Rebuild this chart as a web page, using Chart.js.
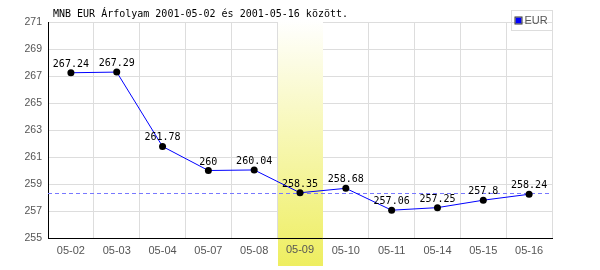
<!DOCTYPE html>
<html>
<head>
<meta charset="utf-8">
<script src="https://cdn.jsdelivr.net/npm/chart.js@4/dist/chart.umd.min.js"></script>
<style>
  body { margin: 0; background: #fff; }
  canvas { display: block; }
</style>
</head>
<body>
<canvas id="rateChart" width="600" height="270"></canvas>
<script>
const title = "MNB EUR Árfolyam 2001-05-02 és 2001-05-16 között.";
const days = ["05-02", "05-03", "05-04", "05-07", "05-08", "05-09", "05-10", "05-11", "05-14", "05-15", "05-16"];
const eurRates = [267.24, 267.29, 261.78, 260, 260.04, 258.35, 258.68, 257.06, 257.25, 257.8, 258.24];
const yTicks = [255, 257, 259, 261, 263, 265, 267, 269, 271];
const highlightDay = "05-09";
const refRate = 258.32;

const monoFont = "10px 'DejaVu Sans Mono', monospace";
const axisGray = "#555";

// title, legend box, highlighted column, reference line, value labels
const decorations = {
    id: "decorations",
    beforeDatasetsDraw(chart) {
        const { ctx, chartArea, scales } = chart;
        const x = scales.x, y = scales.y;
        const i = days.indexOf(highlightDay);
        const half = (x.getPixelForValue(1) - x.getPixelForValue(0)) / 2;
        const cx = x.getPixelForValue(i);
        const top = chartArea.top - 2, bottom = chart.height - 4;

        ctx.save();
        const grad = ctx.createLinearGradient(0, top, 0, bottom);
        grad.addColorStop(0, "#ffffff");
        grad.addColorStop(1, "#eeee60");
        ctx.fillStyle = grad;
        ctx.fillRect(Math.round(cx - half) + 1, top, Math.round(2 * half) - 1, bottom - top);

        // axis line and tick label again, over the column
        ctx.strokeStyle = "#000";
        ctx.lineWidth = 1;
        ctx.beginPath();
        ctx.moveTo(cx - half, chartArea.bottom + 0.5);
        ctx.lineTo(cx + half, chartArea.bottom + 0.5);
        ctx.stroke();
        ctx.fillStyle = axisGray;
        ctx.font = "11px 'Liberation Sans', Arial, sans-serif";
        ctx.textAlign = "center";
        ctx.textBaseline = "top";
        ctx.fillText(highlightDay, cx, chartArea.bottom + 6);

        // dashed reference line
        const ry = Math.round(y.getPixelForValue(refRate)) + 0.5;
        ctx.strokeStyle = "#7878ff";
        ctx.setLineDash([4, 3]);
        ctx.beginPath();
        ctx.moveTo(chartArea.left, ry);
        ctx.lineTo(chartArea.right, ry);
        ctx.stroke();
        ctx.restore();
    },
    afterDatasetsDraw(chart) {
        const { ctx, chartArea } = chart;
        const meta = chart.getDatasetMeta(0);
        ctx.save();
        ctx.font = monoFont;
        ctx.fillStyle = "#000";
        ctx.textAlign = "center";
        ctx.textBaseline = "alphabetic";
        meta.data.forEach((pt, k) => {
            ctx.fillText(String(eurRates[k]), pt.x, pt.y - 6);
        });

        // title
        ctx.textAlign = "left";
        ctx.fillText(title, chartArea.left + 5, 17);

        // legend
        const lx = 511.5, ly = 10.5;
        ctx.strokeStyle = "#dddddd";
        ctx.strokeRect(lx, ly, 41, 20);
        ctx.fillStyle = "#0000ff";
        ctx.fillRect(lx + 4, ly + 7, 6, 6);
        ctx.strokeStyle = "#333";
        ctx.strokeRect(lx + 3.5, ly + 6.5, 7, 7);
        ctx.fillStyle = axisGray;
        ctx.font = "11px 'Liberation Sans', Arial, sans-serif";
        ctx.textBaseline = "middle";
        ctx.fillText("EUR", lx + 13, ly + 10.5);
        ctx.restore();
    }
};

const ctx = document.getElementById("rateChart").getContext("2d");
const chart = new Chart(ctx, {
    type: "line",
    data: {
        labels: days,
        datasets: [{
            label: "EUR",
            data: eurRates,
            borderColor: "#0000ff",
            borderWidth: 1,
            tension: 0,
            pointRadius: 3.5,
            pointBackgroundColor: "#000",
            pointBorderColor: "#000",
            pointBorderWidth: 0
        }]
    },
    options: {
        responsive: false,
        animation: false,
        layout: { padding: { top: 22, right: 48, left: 0, bottom: 0 } },
        plugins: { legend: { display: false }, title: { display: false }, tooltip: { enabled: false } },
        scales: {
            x: {
                offset: true,
                grid: { color: "#dddddd", offset: true, drawTicks: false },
                border: { color: "#000", width: 1 },
                ticks: { color: axisGray, padding: 6, font: { family: "'Liberation Sans', Arial, sans-serif", size: 11 }, maxRotation: 0, autoSkip: false },
                afterFit: (s) => { s.height = 32; }
            },
            y: {
                min: 255,
                max: 271,
                grid: { color: "#dddddd", drawTicks: false },
                border: { color: "#000", width: 1 },
                afterBuildTicks: (s) => { s.ticks = yTicks.map(v => ({ value: v })); },
                ticks: { color: axisGray, padding: 6, font: { family: "'Liberation Sans', Arial, sans-serif", size: 10.5 } },
                afterFit: (s) => { s.width = 48; }
            }
        }
    },
    plugins: [decorations]
});
</script>
</body>
</html>
